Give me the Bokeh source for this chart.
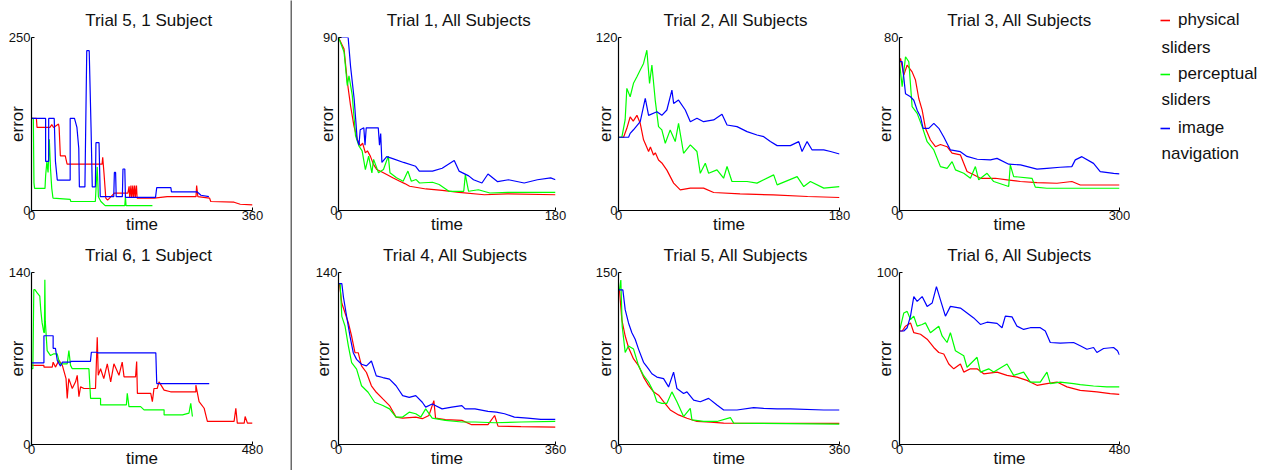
from bokeh.plotting import figure
from bokeh.layouts import row, column
from bokeh.models import Range1d, FixedTicker, Legend, LegendItem, Label
from bokeh.embed import file_html
from bokeh.resources import INLINE

# ---------------- data (time, error) ----------------
# Trial 5, 1 Subject
t5s_red = [(0,133),(8,133),(9,120),(30,120),(33,124),(36,120),(44,125),(45,120),(47,79),(55,79),(58,67),(115,67),(116,77),(118,55),(121,18),(124,15),(135,25),(157,25),(159,35),(160,18),(162,36),(163,18),(165,36),(166,18),(168,36),(169,18),(171,36),(172,18),(200,18),(221,20),(268,20),(269,36),(271,20),(290,18),(292,13),(330,12),(340,9),(360,8)]
t5s_green = [(0,133),(3,133),(4,40),(5,32),(22,32),(23,50),(25,70),(27,55),(29,103),(31,60),(33,32),(35,18),(63,16),(64,13),(104,13),(105,30),(107,63),(109,20),(113,13),(120,7),(152,7),(153,20),(154,7),(197,7)]
t5s_blue = [(0,133),(23,133),(23,71),(28,71),(28,133),(37,133),(39,71),(42,44),(63,44),(63,133),(70,133),(74,120),(77,90),(78,34),(87,34),(90,231),(94,231),(97,120),(99,34),(104,34),(105,98),(110,98),(112,20),(134,20),(135,55),(137,55),(138,20),(148,20),(149,60),(152,60),(153,19),(202,19),(204,33),(227,33),(228,27),(270,27),(276,22),(289,20)]

# Trial 1, All Subjects
t1_red = [(0,90),(4.6,84),(7.3,67),(10,54.5),(12.8,44),(15.5,37),(18.2,33.6),(20,35),(22.3,30),(24,31),(26.4,28.3),(29,24),(31.8,21.3),(36,20),(40,18.7),(45,17),(50.8,15.2),(55,14),(59,12.6),(72.6,11.2),(86,10.5),(100,9.4),(121,8.2),(140,8.7),(180,8.2)]
t1_green = [(0,90),(4.6,82.5),(7.3,65),(8.7,70),(11.4,60),(14.1,39),(16.9,33.6),(19.6,31),(22.3,21.3),(25,28.3),(27.7,19.6),(29.1,26.6),(33.2,19.6),(37.3,21.3),(41.3,28.3),(42.7,19.6),(48.1,17),(53.6,15.2),(57.6,20.5),(60.4,15.2),(64.4,16.1),(67.2,14.3),(78,14.7),(83.5,13.5),(91.6,10),(103.9,10),(105.2,18.7),(107.9,10),(116,10.8),(125.6,9.1),(140.6,9.4),(180,9.4)]
t1_blue = [(0,90),(8,90),(10,75),(13,58),(15.5,37),(17,34),(18,42),(21,43),(22,34),(23,43),(33,43),(34,34),(35,40),(36,25),(40,28),(45,27),(54,25),(64,23),(67,20.5),(78,20.5),(86,22),(96,26),(100,20.5),(108,18),(112,16),(119,14.3),(124,19),(132,15),(141,16),(154,14.3),(165,16),(176,17),(180,16)]

# Trial 2, All Subjects
t2_red = [(0,50.8),(4.1,50.8),(6.8,57),(9.5,65),(12,62),(15,66),(17.7,60.5),(20.4,49),(22,46),(24.5,41),(26,44),(28.5,38.5),(30,40),(32.6,35),(35.3,33),(39.4,28),(44.9,19),(50.3,14.3),(58.5,15.5),(69.3,15.5),(77.5,12.5),(99,11.5),(126,10.8),(154,9.7),(180,9)]
t2_green = [(0,50.8),(2.7,50.8),(5.4,62.8),(6.8,84.7),(9.5,78.9),(12.2,88.2),(15,92.8),(17.7,97.4),(20.4,102),(23.1,111.2),(25.3,88.2),(27.2,100.9),(29.9,76.6),(32.6,58.2),(35.3,55.9),(38.1,46.6),(42.1,55.9),(46.2,47.8),(48.9,60.5),(53,39.7),(58.5,45.5),(63.9,40.9),(66.6,25.8),(70.7,32.8),(73.4,25.8),(80.2,28.2),(85.6,22.4),(88.4,30.5),(92.4,20.1),(104.7,20.1),(112.8,19),(126.4,24.7),(129.2,17.8),(145.5,23.5),(150.9,16.6),(156.3,20.1),(167.2,15.5),(180,16.6)]
t2_blue = [(0,50.8),(8.2,50.8),(9.5,53.5),(12.2,56),(17.7,61.6),(21.8,77.8),(24.5,66),(31.3,68.5),(35.3,66),(39.4,69.7),(43.5,83.5),(44.9,74.3),(48.9,76.6),(54.4,69.7),(58.5,61.6),(63.9,64),(69.3,61.6),(77.5,62.8),(84.3,66.7),(88.4,59.3),(96.5,58.2),(104.7,54.7),(112.8,52.4),(118.3,51.2),(123.7,47.8),(129.2,45),(140,45),(146.8,47.8),(149.5,40.9),(153.6,47.8),(157.7,42),(167.2,42),(172.7,40.9),(180,39.2)]

# Trial 3, All Subjects
t3_red = [(0,68.8),(1.4,70.3),(5.9,62.6),(10.4,67.2),(17.2,64.1),(21.8,60.3),(26.3,51.8),(30.9,46.4),(35.4,38),(42.2,32.6),(49,29.5),(55.8,30.5),(64.9,29.5),(71.7,26.5),(83.1,25.7),(92.1,18),(101.2,16.5),(110.3,14.9),(130.7,14.9),(146.6,14.2),(164.8,13.4),(187.5,12.9),(214.7,12.6),(235.1,13.4),(246.5,11.8),(300,11.8)]
t3_green = [(0,68.8),(3.6,57.2),(8.2,71.1),(12.7,68.8),(17.2,48),(24.1,44.9),(30.9,38.8),(37.7,31.8),(46.8,28),(55.8,20.3),(64.9,19.5),(71.7,22.6),(76.3,18.8),(87.6,17.2),(96.7,14.9),(103.5,20.3),(108,14.2),(119.4,17.2),(128.5,13.4),(148.9,11.1),(151.1,21.1),(155.7,15.7),(180.7,14.9),(185.2,10.8),(201,10.3),(300,10.3)]
t3_blue = [(0,68.8),(3.6,68.8),(8.2,54),(15,52.6),(19.5,51),(24.1,46.4),(28.6,43.4),(32.2,38),(39.9,38),(46.8,40.3),(53.6,38),(60.4,34),(69.4,28),(83,27.2),(92,25),(106,23.7),(124,23.4),(133,24.1),(149,21.4),(165,21.1),(187.5,19.1),(201,19.5),(219,20),(235,20.3),(239.7,23.4),(248.7,24.9),(264.6,21.8),(273.7,18),(292,17.2),(300,16.9)]

# Trial 6, 1 Subject
t6s_red = [(0,64.4),(27,64.4),(27,63),(45,63),(47,67),(52,63),(59.5,68.4),(67,64.4),(75,53.6),(77.6,37.5),(81,53.6),(88.5,45.6),(95.7,51),(99.3,56.3),(103,38.9),(106.6,46.9),(114,45.6),(139,45.6),(142.8,87.2),(145,56.3),(150,61.7),(157,53.6),(164.6,65.7),(172,51),(179,65.7),(190,56.3),(197,67),(201,55),(226,55),(228.4,67.6),(230,41.6),(259,41.6),(262.5,34.9),(266,45.6),(273,45.6),(277,51),(288,44.3),(302,42.9),(357,42.9),(357,48.3),(364,34.9),(375,29.5),(378.5,24.1),(382,18.8),(440,18.8),(443.8,29.5),(447,17.4),(462,17.4),(464,22.8),(469,17.4),(480,17.4)]
t6s_green = [(0,61.7),(3,61.7),(5,126),(7.3,126),(12.3,123.4),(18,120.7),(20,110),(23,99.2),(26.8,91.2),(28,91),(29,134),(30,100),(34,76.4),(41.3,72.4),(48.6,73.8),(55.8,73.8),(59.5,68.4),(63,65.7),(77.6,65.7),(81.2,76.4),(84.8,64.4),(88.5,61.7),(124.7,61.7),(128.3,37.5),(150,37.5),(150,32.2),(193.6,32.2),(206,32.2),(208,41.6),(211.7,30.8),(237,30.8),(244.4,28.2),(288,28.2),(288,24.1),(328,24.1),(342,25.5),(345.9,33.5),(349.5,22.8)]
t6s_blue = [(0,66.5),(27,66.5),(27,88.5),(47,88.5),(47,78.3),(52,78.3),(56,68.4),(63,63.8),(67,67),(85,67),(85,67.6),(128,67.6),(130,75.1),(143,75.1),(143,74.6),(270,74.6),(272,49.6),(386,49.6)]

# Trial 4, All Subjects
t4_red = [(0,131),(1.6,131),(5.5,115),(10.9,107),(16.4,98.9),(21.8,88.1),(27.3,74.7),(32.7,74.7),(38.2,64),(46.4,58.6),(54.6,47.8),(62.7,42.5),(73.6,37.1),(84.6,31.7),(95.5,22.3),(106.4,21.5),(128.2,22.3),(139,21),(150,23.6),(158.2,35.7),(161,21.5),(177.3,20.2),(204.6,19.6),(221,16.1),(248,16.1),(259,23.6),(264.6,15),(302.8,14.5),(360,14.2)]
t4_green = [(0,131),(2.7,131),(5.5,104.3),(10.9,96.2),(16.4,80.1),(21.8,66.6),(30,61.3),(38.2,47.8),(49.1,42.5),(60,34.4),(73.6,31.7),(84.6,29),(95.5,22.3),(106.4,22.3),(117.3,26.3),(128.2,25),(136.4,22.3),(144.6,29),(155.5,21.5),(177.3,19.6),(204.6,18.3),(226.4,18.3),(259,17.7),(302.8,18.3),(360,18.8)]
t4_blue = [(0,131),(5.5,131),(8.2,120),(13.6,104),(19.1,88),(24.5,74.7),(30,69.3),(38.2,65.3),(46.4,64),(54.6,68),(62.7,55.9),(73.6,54.5),(84.6,53.2),(95.5,47.8),(106.4,39.8),(117.3,38.4),(128.2,39.8),(139,34.4),(144.6,30.4),(155.5,33),(171.8,29),(188,30.4),(204.6,31.7),(210,29),(226.4,29),(248,26.9),(261.8,26.3),(275.5,25),(291.8,22.3),(313.7,21.5),(335.5,20.4),(360,20.4)]

# Trial 5, All Subjects
t5_red = [(0,134.8),(1.6,134.8),(5.4,109),(10.9,94.6),(16.3,84.6),(24.5,74.6),(32.6,68.8),(40.8,58.8),(48.9,51.6),(57.1,45.9),(65.3,43),(73.4,37.3),(84.3,30.1),(97.9,25.8),(111.5,22.9),(127.8,20.1),(150,19.5),(171.3,18.6),(360,18.4)]
t5_green = [(0,134.8),(1.6,134.8),(3.8,143.4),(6,103.2),(10.9,80.3),(16.3,86),(24.5,83.2),(32.6,68.8),(40.8,60.2),(48.9,54.5),(57.1,45.9),(62.5,37.3),(70.7,35.9),(78.9,35.9),(87,45.9),(95.2,37.3),(106,24.4),(116.9,31.5),(119.6,21.5),(138.7,20.1),(160.4,20.1),(182.2,23.5),(187.6,18.6),(225.7,18.4),(360,17.8)]
t5_blue = [(0,134.8),(7.1,134.8),(10.9,117.6),(16.3,106),(21.8,97.5),(27.2,91.8),(32.6,83.2),(40.8,71.7),(48.9,66),(54.4,61.7),(62.5,58.8),(73.4,57.4),(81.6,50.2),(89.7,63.1),(95.2,48.8),(106,44.5),(111.5,45.9),(122.4,38.7),(133.2,37.3),(146.8,40.2),(160.4,34.4),(171.3,30.1),(193,30.1),(220.2,32.1),(236.6,31.5),(258.3,31),(280,31),(334.4,30.1),(360,30.1)]

# Trial 6, All Subjects
t6_red = [(0,66),(5.8,66),(13.1,68.8),(24,70.7),(31.2,65),(45.8,64.1),(60.3,61.2),(74.8,56.4),(85.7,53.5),(96.6,52.6),(107.5,46.8),(118.4,44),(132.9,46.8),(140.2,42.1),(154.7,44),(169.2,44),(183.7,41.1),(212.8,42.1),(234.6,40.2),(256.3,39.2),(278.1,37.3),(299.9,34.4),(321.7,35.4),(343.5,36.3),(365.3,33.5),(394.3,31.5),(430.7,30.6),(459.7,29.6),(480,29.1)]
t6_green = [(0,66),(9.4,76.5),(16.7,77.4),(24,72.7),(31.2,74.6),(38.5,68.8),(49.4,69.8),(56.6,70.7),(67.5,65),(85.7,68.8),(93,63.1),(103.8,59.3),(111.1,65),(122,54.5),(140.2,51.6),(147.4,44.9),(158.3,47.8),(169.2,50.7),(176.5,42.1),(194.6,44),(205.5,42.1),(223.7,45.1),(234.6,46.8),(249.1,40.2),(270.9,42.1),(285.4,36.3),(307.2,36.3),(321.7,42.1),(329,35.4),(350.8,36.3),(379.8,35.4),(394.3,34.8),(423.4,34),(452.4,33.5),(480,33.5)]
t6_blue = [(0,66),(9.4,66),(16.7,67.9),(24,74.6),(31.2,86),(38.5,83.2),(49.4,86),(60.3,80.3),(71.2,82.2),(80.6,91.8),(89.3,84.1),(100.2,74.6),(111.1,80.3),(132.9,79.3),(147.4,76.5),(161.9,73.6),(176.5,69.8),(191,71.1),(212.8,70.4),(223.7,67.9),(230.9,74.6),(245.5,74.2),(256.3,68.8),(270.9,66.9),(285.4,67.9),(307.2,67.9),(318.1,66),(329,59.3),(350.8,58.9),(379.8,59.3),(394.3,57.4),(408.9,55.4),(423.4,56.4),(430.7,53.5),(445.2,55.8),(467,56.4),(475.6,54.5),(480,52)]

titles = ["Trial 5, 1 Subject", "Trial 1, All Subjects", "Trial 2, All Subjects", "Trial 3, All Subjects",
          "Trial 6, 1 Subject", "Trial 4, All Subjects", "Trial 5, All Subjects", "Trial 6, All Subjects"]
x_max = [360, 180, 180, 300, 480, 360, 360, 480]
y_max = [250, 90, 120, 80, 140, 140, 150, 100]
series_names = ["physical sliders", "perceptual sliders", "image navigation"]

# ---------------- styling ----------------
FONT = "Liberation Sans"
TXT = "#111111"
COLORS = ["#ff0000", "#00ff00", "#0000ff"]


def make_panel(i, red, green, blue, width, height, bl, br, bt, bb,
               ylab_so, title_off, xtick_so, xlab_so):
    p = figure(width=width, height=height,
               x_range=Range1d(0, x_max[i]), y_range=Range1d(0, y_max[i]),
               output_backend="svg", toolbar_location=None,
               min_border_left=bl, min_border_right=br,
               min_border_top=bt, min_border_bottom=bb,
               title=titles[i])
    p.outline_line_color = None
    p.grid.visible = False
    for data, col in zip((red, green, blue), COLORS):
        xs = [a for a, b in data]
        ys = [b for a, b in data]
        p.line(xs, ys, line_color=col, line_width=1.2)
    p.xaxis.ticker = FixedTicker(ticks=[0, x_max[i]])
    p.yaxis.ticker = FixedTicker(ticks=[0, y_max[i]])
    p.xaxis.axis_label = "time"
    p.yaxis.axis_label = "error"
    for ax in (p.xaxis[0], p.yaxis[0]):
        ax.axis_label_text_font = FONT
        ax.axis_label_text_font_size = "17px"
        ax.axis_label_text_font_style = "normal"
        ax.axis_label_text_color = TXT
        ax.major_label_text_font = FONT
        ax.major_label_text_font_size = "13px"
        ax.major_label_text_color = TXT
        ax.major_tick_in = 3
        ax.major_tick_out = 0
        ax.minor_tick_in = 0
        ax.minor_tick_out = 0
        ax.axis_line_color = "#000000"
        ax.axis_line_width = 1.2
        ax.major_tick_line_color = "#000000"
    p.yaxis.major_label_standoff = 1
    p.yaxis.axis_label_standoff = ylab_so
    p.xaxis.major_label_standoff = xtick_so
    p.xaxis.axis_label_standoff = xlab_so
    p.title.text_font = FONT
    p.title.text_font_size = "17px"
    p.title.text_font_style = "normal"
    p.title.text_color = TXT
    p.title.align = "left"
    p.title.offset = title_off
    p.title.standoff = 15
    return p


H1, H2 = 236, 234
p1 = make_panel(0, t5s_red, t5s_green, t5s_blue, 290, H1, 31, 38, 37, 25, -21, 53.7, 0, -8)
p2 = make_panel(1, t1_red, t1_green, t1_blue, 298, H1, 42, 35, 37, 25, -17, 48.3, 0, -8)
p3 = make_panel(2, t2_red, t2_green, t2_blue, 280, H1, 28, 31, 37, 25, -22, 45, 0, -8)
p4 = make_panel(3, t3_red, t3_green, t3_blue, 260, H1, 29, 11, 37, 25, -14, 47.8, 0, -8)
p5 = make_panel(4, t6s_red, t6s_green, t6s_blue, 290, H2, 31, 38, 35, 25, -21, 53.5, 0, -8)
p6 = make_panel(5, t4_red, t4_green, t4_blue, 298, H2, 46, 32, 35, 25, -20, 44.6, 0, -8)
p7 = make_panel(6, t5_red, t5_green, t5_blue, 280, H2, 28, 31, 35, 25, -22, 45, 0, -8)
p8 = make_panel(7, t6_red, t6_green, t6_blue, 260, H2, 29, 11, 35, 25, -21, 47.8, 0, -8)

# legend panel (wrapped labels: first word beside the key, second word below)
leg = figure(width=135, height=H1, x_range=Range1d(0, 1), y_range=Range1d(0, 1),
             output_backend="svg", toolbar_location=None, min_border=0,
             x_axis_location=None, y_axis_location=None, outline_line_color=None)
leg.grid.visible = False
keys = []
for data, c in zip((t3_red, t3_green, t3_blue), COLORS):
    r = leg.line([a for a, b in data], [b for a, b in data], line_color=c, line_width=1.6)
    r.visible = False          # only used as the legend key
    keys.append(r)
first_words = [s.split(" ")[0] for s in series_names]
second_words = [s.split(" ")[1] for s in series_names]
legend = Legend(items=[LegendItem(label=w, renderers=[r]) for w, r in zip(first_words, keys)],
                location=(30, 97), glyph_width=10, glyph_height=22, label_height=22,
                label_standoff=8, spacing=32, padding=0, margin=0,
                border_line_color=None, background_fill_alpha=0,
                label_text_font=FONT, label_text_font_size="17px", label_text_color=TXT)
leg.add_layout(legend)
for w, yy in zip(second_words, (189, 137, 83)):
    leg.add_layout(Label(x=31, y=yy, x_units="screen", y_units="screen", text=w,
                         text_font=FONT, text_font_size="17px", text_color=TXT,
                         text_align="left", text_baseline="alphabetic"))

# vertical separator
sep = figure(width=2, height=H1 + H2, x_range=Range1d(0, 1), y_range=Range1d(0, 1),
             output_backend="svg", toolbar_location=None, min_border=0,
             x_axis_location=None, y_axis_location=None,
             background_fill_color="#6a6a6a", border_fill_color="#6a6a6a",
             outline_line_color=None)
sep.grid.visible = False

layout = row(column(p1, p5), sep, column(p2, p6), column(p3, p7), column(p4, p8), leg)
open("out.html", "w").write(file_html(layout, INLINE))
